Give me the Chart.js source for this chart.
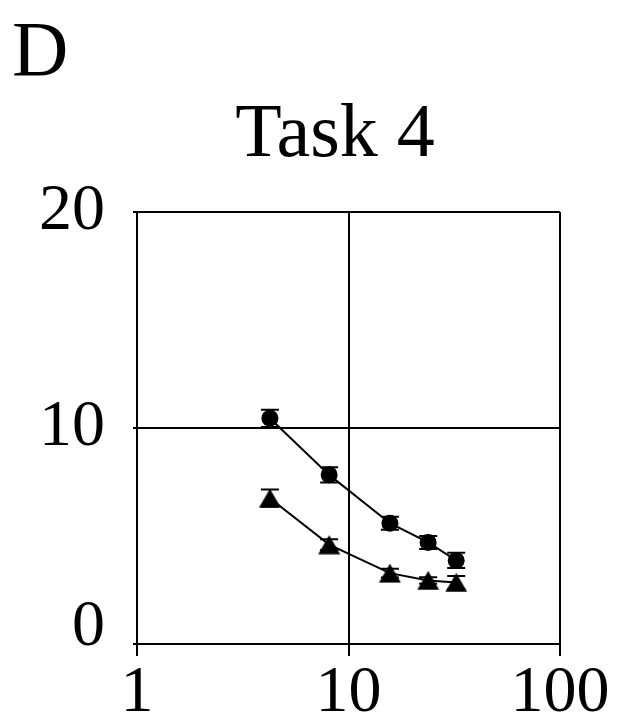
<!DOCTYPE html>
<html>
<head>
<meta charset="utf-8">
<title>Task 4</title>
<script src="https://cdn.jsdelivr.net/npm/chart.js@4/dist/chart.umd.min.js"></script>
<style>
  html, body { margin: 0; padding: 0; background: #ffffff; }
  #wrap { width: 621px; height: 725px; }
</style>
</head>
<body>
<div id="wrap"><canvas id="chart" width="621" height="725"></canvas></div>
<script>
// Measured points (x on a log axis), with their error-bar half widths
const xValues       = [4.25, 8.1, 15.7, 23.8, 32.3];
const circleMeans   = [10.45, 7.83, 5.59, 4.70, 3.87];
const circleErr     = [0.40, 0.35, 0.30, 0.30, 0.35];
const triangleMeans = [6.75, 4.60, 3.28, 2.94, 2.85];
const triangleErr   = [0.40, 0.25, 0.20, 0.15, 0.30];

const xTicks = [1, 10, 100];
const yTicks = [0, 10, 20];
const panelLabel = 'D';
const titleText = 'Task 4';

const SERIF = '"Liberation Serif", "DejaVu Serif", serif';

// Filled triangle marker, centred in its own box
function triangleMarker(w, h) {
  const c = document.createElement('canvas');
  c.width = w; c.height = h;
  const g = c.getContext('2d');
  g.fillStyle = '#000';
  g.beginPath();
  g.moveTo(w / 2, 0.5);
  g.lineTo(w - 0.5, h - 0.5);
  g.lineTo(0.5, h - 0.5);
  g.closePath();
  g.fill();
  return c;
}

// Vertical error bars with short caps above and below each point
const errorBars = {
  id: 'errorBars',
  afterDatasetsDraw(chart) {
    const { ctx, scales } = chart;
    const sx = scales.x, sy = scales.y;
    const sets = [[circleMeans, circleErr], [triangleMeans, triangleErr]];
    ctx.save();
    ctx.strokeStyle = '#000';
    ctx.lineWidth = 2;
    sets.forEach(([means, errs]) => {
      means.forEach((m, i) => {
        const px = sx.getPixelForValue(xValues[i]);
        const top = sy.getPixelForValue(m + errs[i]);
        const bot = sy.getPixelForValue(m - errs[i]);
        ctx.beginPath();
        ctx.moveTo(px, top); ctx.lineTo(px, bot);
        ctx.moveTo(px - 9, top); ctx.lineTo(px + 9, top);
        ctx.moveTo(px - 9, bot); ctx.lineTo(px + 9, bot);
        ctx.stroke();
      });
    });
    ctx.restore();
  }
};

// Panel letter and heading above the plot
const headings = {
  id: 'headings',
  afterDraw(chart) {
    const ctx = chart.ctx;
    ctx.save();
    ctx.fillStyle = '#000';
    ctx.textBaseline = 'alphabetic';
    ctx.font = '78px ' + SERIF;
    ctx.textAlign = 'left';
    ctx.fillText(panelLabel, 12, 75);
    ctx.font = '76px ' + SERIF;
    ctx.textAlign = 'center';
    ctx.fillText(titleText, 335, 156);
    ctx.restore();
  }
};

const gridStyle = {
  color: '#000',
  lineWidth: 2,
  drawTicks: true,
  tickColor: '#000',
  tickWidth: 2
};

new Chart(document.getElementById('chart'), {
  type: 'line',
  data: {
    datasets: [
      {
        label: 'circle',
        data: xValues.map((x, i) => ({ x, y: circleMeans[i] })),
        borderColor: '#000',
        borderWidth: 2,
        backgroundColor: '#000',
        pointStyle: 'circle',
        pointRadius: 8.5,
        pointBorderWidth: 0,
        pointBackgroundColor: '#000',
        tension: 0,
        fill: false
      },
      {
        label: 'triangle',
        data: xValues.map((x, i) => ({ x, y: triangleMeans[i] })),
        borderColor: '#000',
        borderWidth: 2,
        backgroundColor: '#000',
        pointStyle: triangleMarker(23, 20),
        tension: 0,
        fill: false
      }
    ]
  },
  options: {
    responsive: false,
    animation: false,
    events: [],
    layout: { padding: { left: 16, right: 61, top: 212, bottom: 0 } },
    plugins: {
      legend: { display: false },
      tooltip: { enabled: false },
      title: { display: false }
    },
    scales: {
      x: {
        type: 'logarithmic',
        min: 1,
        max: 100,
        afterBuildTicks(scale) { scale.ticks = xTicks.map(v => ({ value: v })); },
        afterFit(scale) { scale.height = 81; },
        grid: Object.assign({}, gridStyle, { tickLength: 12 }),
        border: { display: true, color: '#000', width: 2 },
        ticks: {
          color: '#000',
          padding: -2,
          maxRotation: 0,
          autoSkip: false,
          font: { family: SERIF, size: 66 },
          callback: v => String(v)
        }
      },
      y: {
        type: 'linear',
        min: 0,
        max: 20,
        afterBuildTicks(scale) { scale.ticks = yTicks.map(v => ({ value: v })); },
        afterFit(scale) { scale.width = 121; },
        grid: Object.assign({}, gridStyle, { tickLength: 4 }),
        border: { display: true, color: '#000', width: 2 },
        ticks: {
          color: '#000',
          padding: 28,
          autoSkip: false,
          // the zero label sits a little above its tick: a blank second line lifts it
          font: { family: SERIF, size: 66, lineHeight: 0.5 },
          callback: v => (v === 0 ? ['0', ''] : String(v))
        }
      }
    }
  },
  plugins: [errorBars, headings]
});
</script>
</body>
</html>
